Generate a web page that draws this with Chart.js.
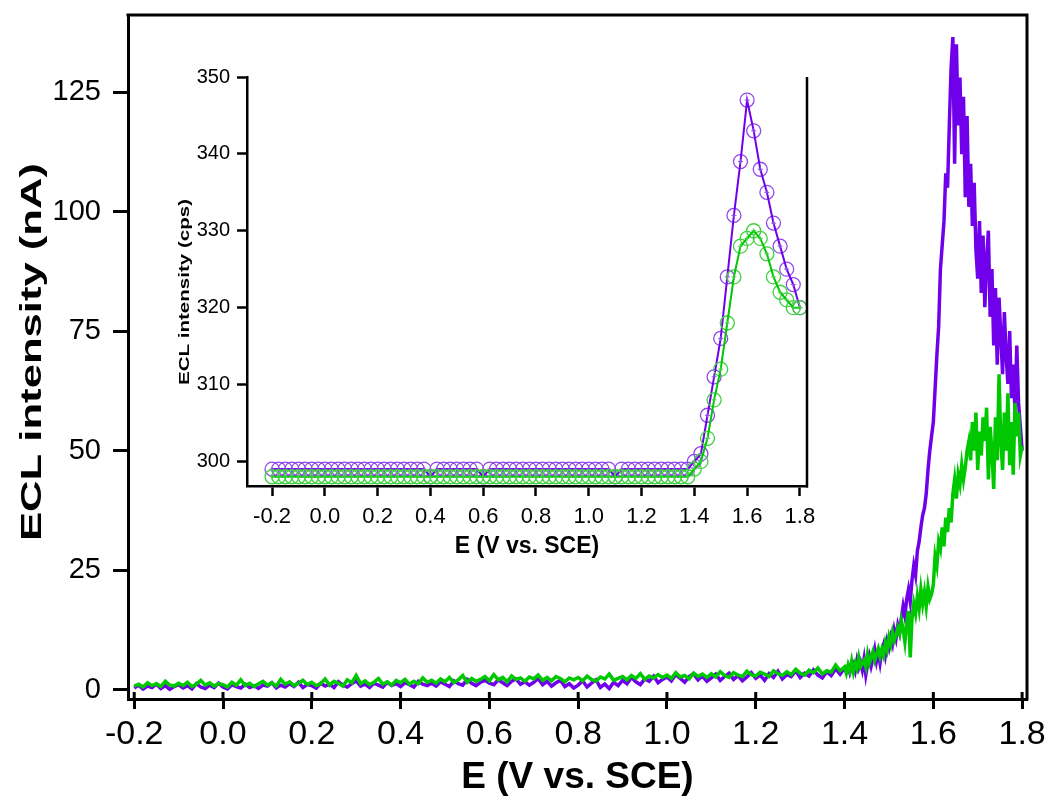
<!DOCTYPE html>
<html>
<head>
<meta charset="utf-8">
<script src="https://cdn.jsdelivr.net/npm/chart.js@4.4.1/dist/chart.umd.min.js"></script>
<style>
  body { margin: 0; background: #fff; }
  #wrap { position: relative; width: 1048px; height: 798px; }
  #mainChart { position: absolute; left: 0; top: 0; }
  #insetChart { position: absolute; left: 170px; top: 60px; }
</style>
</head>
<body>
<div id="wrap">
  <canvas id="mainChart" width="1048" height="798"></canvas>
  <canvas id="insetChart" width="660" height="500"></canvas>
</div>
<script>
// ---- main plot data (ECL intensity in nA) ----
// low-potential part: E = -0.20 ... 1.40 V, every 0.01 V
const lowStart = -0.2, lowStep = 0.01;
const purpleLow = [
  0.4, 1.0, 0.2, 0.8, 0.5, 1.2, 0.3, 0.9, 0.1, 0.7,
  1.1, 0.4, 0.9, 0.2, 1.3, 0.6, 0.3, 1.0, 0.5, 1.4,
  0.6, 0.2, 1.1, 0.7, 0.4, 1.2, 0.5, 0.9, 0.3, 1.0,
  0.8, 1.5, 0.4, 1.0, 0.6, 1.3, 0.7, 1.6, 0.5, 1.1,
  0.9, 0.4, 1.4, 0.8, 1.2, 0.5, 1.7, 1.0, 0.6, 1.3,
  1.9, 0.8, 1.2, 0.5, 1.4, 1.0, 0.6, 1.6, 0.9, 1.3,
  0.7, 1.5, 1.1, 0.6, 1.8, 1.2, 0.9, 1.4, 0.8, 1.7,
  1.2, 0.7, 1.9, 1.3, 1.0, 2.2, 1.4, 0.9, 1.6, 2.0,
  1.4, 1.1, 2.1, 1.5, 0.9, 1.8, 2.3, 1.2, 1.7, 1.0,
  1.6, 2.4, 1.1, 1.8, 0.8, 1.5, 2.0, 0.7, 1.3, 0.4,
  1.0, 1.9, 0.6, 1.4, 2.1, 0.5, 1.2, 0.3, 1.6, 0.9,
  2.0, 1.3, 2.6, 1.7, 1.1, 2.3, 1.8, 2.9, 1.5, 2.2,
  2.7, 1.9, 3.2, 2.4, 1.6, 2.8, 3.4, 2.1, 2.9, 1.8,
  2.5, 3.3, 2.0, 2.8, 3.5, 2.2, 3.0, 1.9, 2.7, 3.6,
  2.4, 3.1, 2.0, 3.4, 2.6, 3.9, 2.3, 3.2, 2.8, 4.0,
  2.6, 3.5, 2.9, 4.2, 3.1, 2.5, 3.8, 3.0, 4.4, 3.3,
  4.6
];
const greenLow = [
  0.8, 1.2, 0.6, 1.5, 0.9, 1.3, 0.7, 1.8, 1.0, 0.8,
  1.4, 0.9, 1.6, 0.7, 1.2, 2.0, 1.0, 1.5, 0.8, 1.3,
  1.1, 0.6, 1.6, 1.0, 2.1, 0.9, 1.4, 0.7, 1.3, 1.8,
  1.0, 1.5, 0.8, 2.2, 1.2, 1.7, 0.9, 1.4, 2.0, 1.1,
  1.6, 0.9, 1.3, 2.3, 1.0, 1.8, 1.4, 0.8, 2.1, 1.5,
  3.0, 1.3, 1.9, 1.1, 1.6, 2.4, 1.2, 1.7, 1.0, 2.0,
  1.5, 2.2, 1.2, 1.8, 1.3, 2.5, 1.6, 2.0, 1.4, 2.3,
  1.7, 2.6, 1.5, 2.1, 3.0, 1.6, 2.4, 1.8, 2.2, 2.8,
  1.9, 3.2, 2.1, 2.6, 1.7, 2.9, 2.2, 2.5, 1.8, 2.7,
  2.3, 3.1, 2.0, 2.6, 1.9, 2.8, 2.4, 1.7, 2.5, 2.1,
  2.6, 1.9, 2.9, 2.2, 1.8, 2.7, 2.3, 3.3, 2.0, 2.4,
  2.8, 2.1, 3.0, 2.4, 3.4, 2.2, 2.9, 2.5, 3.2, 2.6,
  3.1, 2.4, 3.6, 2.7, 3.0, 2.3, 3.5, 2.8, 3.3, 2.6,
  3.4, 2.7, 3.8, 3.0, 2.6, 3.6, 3.1, 2.8, 3.9, 3.2,
  2.9, 3.7, 3.3, 2.8, 4.0, 3.4, 3.0, 3.8, 3.2, 4.3,
  3.5, 3.1, 4.1, 3.6, 4.6, 3.3, 4.0, 3.7, 5.2, 4.0,
  4.8
];
// high-potential part: E = 1.404 ... 1.800 V, every 0.004 V
const highStart = 1.404, highStep = 0.004;
const purpleHigh = [
  3.8, 5.0, 3.6, 4.8, 5.5, 4.0, 6.2, 4.6, 5.8, 4.2,
  6.5, 3.2, 5.4, 7.0, 5.0, 6.6, 8.5, 6.0, 7.8, 5.6,
  8.2, 9.5, 7.4, 10.2, 8.8, 11.0, 9.6, 12.5, 10.8, 13.5,
  12.0, 15.0, 17.5, 15.5, 19.0, 21.0, 18.5, 23.0, 26.0, 24.0,
  29.0, 31.0, 34.0, 36.5, 38.0, 41.0, 46.0, 50.0, 53.0, 56.0,
  63.0, 70.0, 76.0, 88.0, 93.0, 98.0, 108.0, 105.0, 118.0, 130.0,
  136.5, 110.0, 135.0, 118.0, 128.0, 112.0, 124.0, 103.0, 120.0, 101.0,
  110.0, 97.0, 106.0, 92.0, 86.0, 98.0, 83.0, 95.0, 80.0, 90.0,
  96.0, 78.0, 88.0, 72.0, 84.0, 68.0, 82.0, 74.0, 66.0, 79.0,
  70.0, 64.0, 75.0, 61.0, 68.0, 58.0, 72.0, 60.0, 55.0, 50.0
];
const greenHigh = [
  3.5, 5.2, 4.0, 6.0, 3.8, 5.5, 4.5, 6.8, 4.9, 5.6,
  6.2, 4.8, 7.5, 5.6, 6.8, 8.0, 6.2, 7.4, 8.6, 7.0,
  8.5, 7.2, 9.8, 8.4, 11.0, 9.5, 12.0, 10.4, 11.5, 13.0,
  11.8, 14.5, 12.6, 10.0, 14.0, 16.5, 6.8, 15.0, 18.0, 16.0,
  19.5, 17.0, 21.0, 18.0, 20.5, 17.5, 21.5, 19.0, 20.0, 22.0,
  28.0, 26.0, 31.0, 29.5, 34.0, 30.0, 36.0, 33.0, 38.0, 35.0,
  41.0, 44.0, 40.0, 45.0, 43.0, 47.0, 44.0, 46.5, 50.0, 52.0,
  48.0, 56.0, 50.0, 58.0, 46.0, 54.0, 49.0, 57.0, 52.0, 59.0,
  44.0, 55.0, 50.0, 42.0, 57.0, 48.0, 66.0, 52.0, 46.0, 58.0,
  50.0, 62.0, 47.0, 56.0, 45.0, 60.0, 53.0, 58.0, 49.0, 51.0
];
const mainXTicks = [-0.2, 0.0, 0.2, 0.4, 0.6, 0.8, 1.0, 1.2, 1.4, 1.6, 1.8];
const mainYTicks = [0, 25, 50, 75, 100, 125];

// ---- inset data (ECL intensity in cps), E = -0.2 ... 1.8 V every 0.025 V ----
const insetStart = -0.2, insetStep = 0.025;
const insetPurple = [
  299, 299, 299, 299, 299, 299, 299, 299, 299, 299,
  299, 299, 299, 299, 299, 299, 299, 299, 299, 299,
  299, 299, 299, 299, 298, 299, 299, 299, 299, 299,
  299, 299, 298, 299, 299, 299, 299, 299, 299, 299,
  299, 299, 299, 299, 299, 299, 299, 299, 299, 299,
  299, 299, 298, 299, 299, 299, 299, 299, 299, 299,
  299, 299, 299, 299, 300, 301, 306, 311, 316, 324,
  332, 339, 347, 343, 338, 335, 331, 328, 325, 323,
  320
];
const insetGreen = [
  298, 298, 298, 298, 298, 298, 298, 298, 298, 298,
  298, 298, 298, 298, 298, 298, 298, 298, 298, 298,
  298, 298, 298, 298, 298, 298, 298, 298, 298, 298,
  298, 298, 298, 298, 298, 298, 298, 298, 298, 298,
  298, 298, 298, 298, 298, 298, 298, 298, 298, 298,
  298, 298, 298, 298, 298, 298, 298, 298, 298, 298,
  298, 298, 298, 298, 299, 300, 303, 308, 312, 318,
  324, 328, 329, 330, 329, 327, 324, 322, 321, 320,
  320
];
const insetXTicks = [-0.2, 0.0, 0.2, 0.4, 0.6, 0.8, 1.0, 1.2, 1.4, 1.6, 1.8];
const insetYTicks = [300, 310, 320, 330, 340, 350];

const PURPLE = '#7000EB';
const GREEN = '#00C800';
const PURPLE_MARK = '#9048EA';
const GREEN_MARK = '#40D040';
const NARROW = '"Liberation Sans Narrow", "Liberation Sans", Arial';
const SANS = '"Liberation Sans", Arial';

// pair a value array with its potential grid
function toPoints(vals, start, step) {
  return vals.map((v, i) => ({ x: +(start + i * step).toFixed(4), y: v }));
}

// right (and top) frame lines, inner half of x ticks, and the rotated y title
const framePlugin = {
  id: 'frame',
  afterDraw(chart, args, opts) {
    const { ctx, chartArea: a, scales } = chart;
    ctx.save();
    ctx.strokeStyle = '#000';
    ctx.lineWidth = opts.width || 3;
    ctx.beginPath();
    if (opts.top) {
      ctx.moveTo(a.left - 1.5, a.top);
      ctx.lineTo(a.right + 1.5, a.top);
    }
    ctx.moveTo(a.right, a.top);
    ctx.lineTo(a.right, a.bottom + 1.5);
    if (opts.innerTicks) {
      scales.x.ticks.forEach(t => {
        const px = scales.x.getPixelForValue(t.value);
        ctx.moveTo(px, a.bottom);
        ctx.lineTo(px, a.bottom - opts.innerTicks);
      });
    }
    ctx.stroke();

    // y title, stretched along its length like the original figure
    const t = opts.yTitle;
    if (t) {
      ctx.font = t.font;
      ctx.fillStyle = '#000';
      ctx.textAlign = 'center';
      ctx.textBaseline = 'middle';
      const w = ctx.measureText(t.text).width;
      ctx.translate(t.x, t.y);
      ctx.rotate(-Math.PI / 2);
      ctx.scale(t.length / w, 1);
      ctx.fillText(t.text, 0, 0);
    }
    ctx.restore();
  }
};

const mainPurple = toPoints(purpleLow, lowStart, lowStep).concat(toPoints(purpleHigh, highStart, highStep));
const mainGreen = toPoints(greenLow, lowStart, lowStep).concat(toPoints(greenHigh, highStart, highStep));

new Chart(document.getElementById('mainChart'), {
  type: 'line',
  data: {
    datasets: [
      { data: mainGreen, borderColor: GREEN, borderWidth: 3.5, pointRadius: 0, tension: 0 },
      { data: mainPurple, borderColor: PURPLE, borderWidth: 3.5, pointRadius: 0, tension: 0 }
    ]
  },
  options: {
    responsive: false,
    animation: false,
    events: [],
    layout: { padding: { top: 15, right: 21, left: 0, bottom: 0 } },
    plugins: {
      legend: { display: false },
      tooltip: { enabled: false },
      frame: {
        top: true,
        innerTicks: 7,
        yTitle: { text: 'ECL intensity (nA)', font: 'bold 30px ' + SANS, x: 33, y: 352, length: 378 }
      }
    },
    scales: {
      x: {
        type: 'linear',
        min: -0.214,
        max: 1.811,
        afterBuildTicks: s => { s.ticks = mainXTicks.map(v => ({ value: v })); },
        afterFit: s => { s.height = 99; s.paddingLeft = 0; s.paddingRight = 0; },
        ticks: {
          color: '#000',
          font: { family: NARROW, size: 34 },
          padding: 5,
          maxRotation: 0,
          callback: v => v.toFixed(1)
        },
        grid: { drawOnChartArea: false, tickLength: 10, tickWidth: 3, tickColor: '#000' },
        border: { color: '#000', width: 3 },
        title: {
          display: true,
          text: 'E (V vs. SCE)',
          color: '#000',
          font: { family: NARROW, size: 37, weight: 'bold' },
          padding: { top: 0, bottom: -2 }
        }
      },
      y: {
        min: -1.9,
        max: 141.1,
        afterBuildTicks: s => { s.ticks = mainYTicks.map(v => ({ value: v })); },
        afterFit: s => { s.width = 128; s.paddingTop = 0; s.paddingBottom = 0; },
        ticks: {
          color: '#000',
          font: { family: SANS, size: 29 },
          padding: 12
        },
        grid: { drawOnChartArea: false, tickLength: 15, tickWidth: 3, tickColor: '#000' },
        border: { color: '#000', width: 3 }
      }
    }
  },
  plugins: [framePlugin]
});

const inPurple = toPoints(insetPurple, insetStart, insetStep);
const inGreen = toPoints(insetGreen, insetStart, insetStep);

new Chart(document.getElementById('insetChart'), {
  type: 'line',
  data: {
    datasets: [
      { data: inGreen, borderColor: GREEN, borderWidth: 2, pointStyle: 'cross', pointRadius: 2.5,
        pointBorderColor: GREEN_MARK, pointBorderWidth: 1, tension: 0 },
      { data: inGreen, showLine: false, pointStyle: 'circle', pointRadius: 7,
        pointBackgroundColor: 'rgba(0,0,0,0)', pointBorderColor: GREEN_MARK, pointBorderWidth: 1.3 },
      { data: inPurple, borderColor: PURPLE, borderWidth: 2, pointStyle: 'cross', pointRadius: 2.5,
        pointBorderColor: PURPLE_MARK, pointBorderWidth: 1, tension: 0 },
      { data: inPurple, showLine: false, pointStyle: 'circle', pointRadius: 7,
        pointBackgroundColor: 'rgba(0,0,0,0)', pointBorderColor: PURPLE_MARK, pointBorderWidth: 1.3 }
    ]
  },
  options: {
    responsive: false,
    animation: false,
    events: [],
    layout: { padding: { top: 17, right: 23, left: 0, bottom: 0 } },
    plugins: {
      legend: { display: false },
      tooltip: { enabled: false },
      frame: {
        top: false,
        width: 2.5,
        yTitle: { text: 'ECL intensity (cps)', font: 'bold 14px ' + SANS, x: 15, y: 232, length: 186 }
      }
    },
    scales: {
      x: {
        type: 'linear',
        min: -0.295,
        max: 1.827,
        afterBuildTicks: s => { s.ticks = insetXTicks.map(v => ({ value: v })); },
        afterFit: s => { s.height = 74; s.paddingLeft = 0; s.paddingRight = 0; },
        ticks: {
          color: '#000',
          font: { family: NARROW, size: 22 },
          padding: 8,
          maxRotation: 0,
          callback: v => v.toFixed(1)
        },
        grid: { drawOnChartArea: false, tickLength: 10, tickWidth: 2.5, tickColor: '#000' },
        border: { color: '#000', width: 2.5 },
        title: {
          display: true,
          text: 'E (V vs. SCE)',
          color: '#000',
          font: { family: NARROW, size: 23, weight: 'bold' },
          padding: { top: 0, bottom: 0 }
        }
      },
      y: {
        min: 296.8,
        max: 350,
        afterBuildTicks: s => { s.ticks = insetYTicks.map(v => ({ value: v })); },
        afterFit: s => { s.width = 77; s.paddingTop = 0; s.paddingBottom = 0; },
        ticks: {
          color: '#000',
          font: { family: SANS, size: 20 },
          padding: 7
        },
        grid: { drawOnChartArea: false, tickLength: 10, tickWidth: 2.5, tickColor: '#000' },
        border: { color: '#000', width: 2.5 }
      }
    }
  },
  plugins: [framePlugin]
});
</script>
</body>
</html>
